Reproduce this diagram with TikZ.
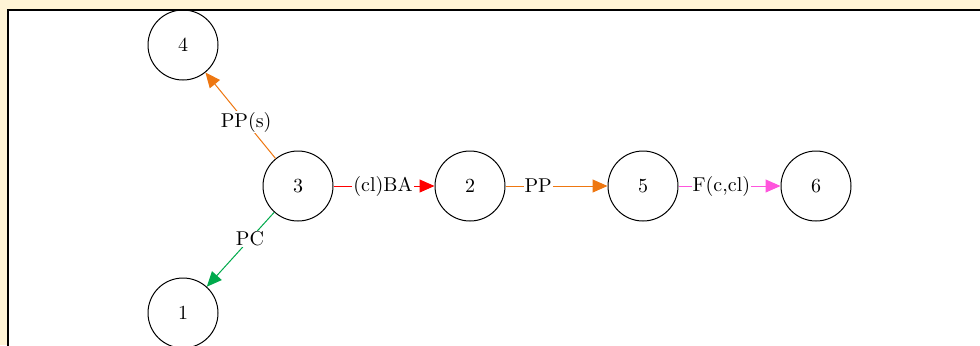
\documentclass[tikz,border=0pt]{standalone}
\usepackage{tikz}
\usetikzlibrary{arrows.meta}
\definecolor{paper}{HTML}{FFF4D6}
\definecolor{orng}{HTML}{EE7711}
\definecolor{grn}{HTML}{00AA4C}
\definecolor{pnk}{HTML}{FF55DD}
\definecolor{rd}{HTML}{FF0000}

\begin{document}
\begin{tikzpicture}[
  x=0.5pt, y=-0.5pt,
  font=\normalsize,
  st/.style={draw, circle, line width=0.5pt, minimum size=35pt, inner sep=0pt},
  lnk/.style={-{Triangle[length=7.5pt, width=6.5pt]}, line width=0.5pt},
  lbl/.style={fill=white, inner sep=0.5pt}
]
  \useasboundingbox (0,0) rectangle (980,345);
  \fill[paper] (0,0) rectangle (980,345);
  \clip (0,0) rectangle (980,345);
  \draw[line width=1pt, fill=white] (8,10) rectangle (1000,400);

  \node[st] (s4) at (183,45) {4};
  \node[st] (s3) at (298,186) {3};
  \node[st] (s1) at (183,313) {1};
  \node[st] (s2) at (470,186) {2};
  \node[st] (s5) at (643,186) {5};
  \node[st] (s6) at (816,186) {6};

  \draw[lnk, orng] (s3) -- node[lbl, pos=0.42, text=black] {PP(s)} (s4);
  \draw[lnk, grn] (s3) -- node[lbl, pos=0.36, text=black] {PC} (s1);
  \draw[lnk, rd] (s3) -- node[lbl, pos=0.49, text=black] {(cl)BA} (s2);
  \draw[lnk, orng] (s2) -- node[lbl, pos=0.32, text=black] {PP} (s5);
  \draw[lnk, pnk] (s5) -- node[lbl, pos=0.42, text=black] {F(c,cl)} (s6);
\end{tikzpicture}
\end{document}
